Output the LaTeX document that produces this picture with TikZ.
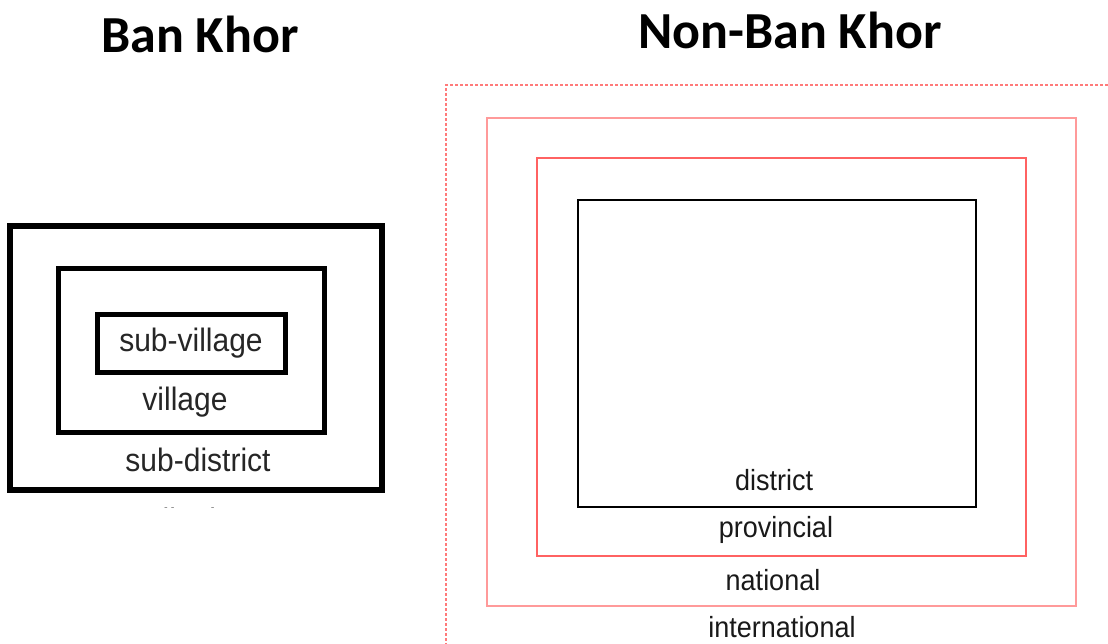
\documentclass[tikz,border=0pt]{standalone}
\usepackage{fontspec}
\setmainfont{Liberation Sans}
\newfontfamily\titlefont{Carlito}
\definecolor{lightred}{HTML}{FF9A9A}
\definecolor{midred}{HTML}{FF6262}
\definecolor{dashred}{HTML}{FF7A7A}
\tikzset{
  title/.style={font=\titlefont\bfseries\fontsize{52}{56}\selectfont, text=black},
  biglabel/.style={font=\fontsize{30}{32}\selectfont, text=black!85, inner sep=0pt, yscale=1.08},
  smalllabel/.style={font=\fontsize{27}{29}\selectfont, text=black!90, inner sep=0pt, yscale=1.08},
  thickbox/.style={draw=black, line width=6pt},
  midbox/.style={draw=black, line width=5pt},
}
\begin{document}
\begin{tikzpicture}[x=1pt,y=-1pt]
\useasboundingbox (0,0) rectangle (1108,644);
% titles
\node[title] (t1) at (200,34) {Ban Khor};
\node[title] (t2) at (790,30) {Non-Ban Khor};
% left nested boxes
\draw[thickbox] (10,226) rectangle (382,490);
\draw[midbox] (58,269) rectangle (324,432);
\draw[midbox] (97,314) rectangle (285,372);
\node[biglabel] (sv) at (191,343) {sub-village};
\node[biglabel] (v) at (185,402) {village};
\node[biglabel] (sd) at (198,460) {sub-district};
\begin{scope}
\clip (0,501) rectangle (400,507);
\node[biglabel] (d0) at (196,520) {district};
\end{scope}
% right nested boxes
\draw[dashred, line width=1.3pt, dash pattern=on 3pt off 2pt] (1108,85) -- (446,85) -- (446,644);
\draw[lightred, line width=2pt] (487,118) rectangle (1076,606);
\draw[midred, line width=2pt] (537,158) rectangle (1026,556);
\draw[black, line width=1.5pt] (578,200) rectangle (976,507);
\node[smalllabel] (d) at (774,480) {district};
\node[smalllabel] (p) at (776,530) {provincial};
\node[smalllabel] (n) at (773,580) {national};
\node[smalllabel] (i) at (782,627) {international};
\end{tikzpicture}
\end{document}
